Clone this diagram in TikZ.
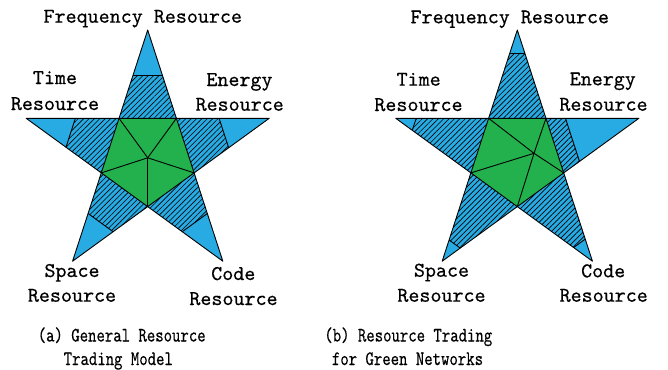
\documentclass[tikz,border=0pt]{standalone}
\usepackage{fontspec}
\usetikzlibrary{calc,patterns.meta}
\newfontfamily\lblfont{lmmono10-regular.otf}[FakeBold=0.4]
\definecolor{starblue}{RGB}{40,170,226}
\definecolor{stargreen}{RGB}{34,177,76}
\tikzset{
  lbl/.style={font=\lblfont\fontsize{21pt}{25pt}\selectfont, inner sep=0pt, anchor=base},
  captxt/.style={font=\lblfont\fontsize{20.5pt}{25pt}\selectfont, inner sep=0pt, anchor=base},
  hatch/.style={pattern={Lines[angle=45,distance=3.8pt,line width=0.65pt]}, pattern color=black},
  edge/.style={draw=black, line width=0.9pt, line join=round},
  cutline/.style={draw=black, line width=0.9pt},
}
\newcommand\captext[1]{\scalebox{0.78}[1]{#1}}
\newcommand\mkstar[3]{%
  \foreach \k/\a in {1/-90,2/-18,3/54,4/126,5/198}
    {\coordinate (#1T\k) at ($(#2,#3)+(\a:127.8)$);}
  \foreach \k/\a in {1/-54,2/18,3/90,4/162,5/234}
    {\coordinate (#1I\k) at ($(#2,#3)+(\a:48.8)$);}
}
\newcommand\paintstar[3]{% prefix, interior point, cut list k/p/t
  \fill[starblue] (#1T1)--(#1I1)--(#1T2)--(#1I2)--(#1T3)--(#1I3)--(#1T4)--(#1I4)--(#1T5)--(#1I5)--cycle;
  \foreach \k/\p/\t in {#3} {
    \coordinate (#1A\k) at ($(#1T\k)!\t!(#1I\p)$);
    \coordinate (#1B\k) at ($(#1T\k)!\t!(#1I\k)$);
    \fill[hatch] (#1A\k)--(#1I\p)--(#1I\k)--(#1B\k)--cycle;
    \draw[cutline] (#1A\k)--(#1B\k);
  }
  \filldraw[stargreen, edge] (#1I1)--(#1I2)--(#1I3)--(#1I4)--(#1I5)--cycle;
  \foreach \k in {1,...,5} {\draw[edge] (#2)--(#1I\k);}
  \draw[edge] (#1T1)--(#1I1)--(#1T2)--(#1I2)--(#1T3)--(#1I3)--(#1T4)--(#1I4)--(#1T5)--(#1I5)--cycle;
}
\begin{document}
\begin{tikzpicture}[x=1pt,y=-1pt]
\path[use as bounding box] (0,0) rectangle (668,369);
% left star
\mkstar{L}{147.7}{157.8}
\coordinate (LP) at (147.7,157.8);
\paintstar{L}{LP}{1/5/0.52, 2/1/0.54, 3/2/0.54, 4/3/0.54, 5/4/0.53}
% right star
\mkstar{R}{517.3}{157.8}
\coordinate (RP) at (534,153.3);
\paintstar{R}{RP}{1/5/0.26, 2/1/0.79, 3/2/0.25, 4/3/0.24, 5/4/0.22}
% left labels
\node[lbl] (lfreq) at (142.8,22.7) {Frequency Resource};
\node[lbl] (ltime1) at (55,84) {Time};
\node[lbl] (ltime2) at (55,110) {Resource};
\node[lbl] (lener1) at (239.5,86) {Energy};
\node[lbl] (lener2) at (239.7,110.7) {Resource};
\node[lbl] (lspace1) at (72,277) {Space};
\node[lbl] (lspace2) at (72,301.7) {Resource};
\node[lbl] (lcode1) at (233.3,280) {Code};
\node[lbl] (lcode2) at (233.5,305) {Resource};
% right labels
\node[lbl] (rfreq) at (509.8,23.3) {Frequency Resource};
\node[lbl] (rtime1) at (418.7,85.7) {Time};
\node[lbl] (rtime2) at (418.5,111) {Resource};
\node[lbl] (rener1) at (602.8,85.3) {Energy};
\node[lbl] (rener2) at (603.5,110.7) {Resource};
\node[lbl] (rspace1) at (441.5,276.7) {Space};
\node[lbl] (rspace2) at (441.5,301.7) {Resource};
\node[lbl] (rcode1) at (603.2,277.3) {Code};
\node[lbl] (rcode2) at (603.7,301.7) {Resource};
% captions
\node[captxt] (capa1) at (121.7,341.5) {\captext{(a) General Resource}};
\node[captxt] (capa2) at (118.3,365) {\captext{Trading Model}};
\node[captxt] (capb1) at (408.3,341.5) {\captext{(b) Resource Trading}};
\node[captxt] (capb2) at (407.5,365) {\captext{for Green Networks}};
\end{tikzpicture}
\end{document}
